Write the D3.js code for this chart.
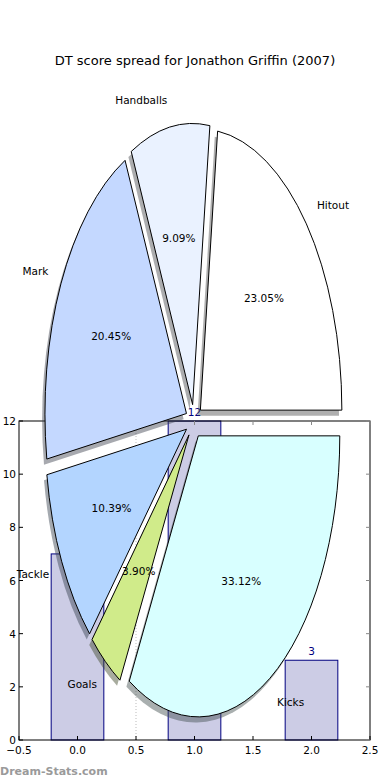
<!DOCTYPE html>
<html>
<head>
<meta charset="utf-8">
<script src="https://cdn.jsdelivr.net/npm/d3@7"></script>
<style>
  html, body { margin: 0; padding: 0; background: #fff; }
  svg { display: block; font-family: "DejaVu Sans", sans-serif; }
</style>
</head>
<body>
<svg width="390" height="780"></svg>
<script>
"use strict";

// pie data
var categories = ["Hitout", "Handballs", "Mark", "Tackle", "Goals", "Kicks"];
var shares = [23.05, 9.09, 20.45, 10.39, 3.90, 33.12];
var sliceColors = ["#ffffff", "#eaf2ff", "#c4d8ff", "#b3d5ff", "#d0eb8a", "#d8ffff"];

// bar data
var barX = [0, 1, 2];
var barValues = [7, 12, 3];
var xTicks = [-0.5, 0, 0.5, 1, 1.5, 2, 2.5];
var yTicks = [0, 2, 4, 6, 8, 10, 12];

var svg = d3.select("svg");

svg.append("text")
    .attr("x", 195)
    .attr("y", 65)
    .attr("text-anchor", "middle")
    .style("font-size", "13px")
    .text("DT score spread for Jonathon Griffin (2007)");

// ---- bar axes ----
var x = d3.scaleLinear().domain([-0.5, 2.5]).range([19, 370]);
var y = d3.scaleLinear().domain([0, 12]).range([740, 421]);
var barWidth = 0.45;

var bars = svg.append("g");

bars.append("line")
    .attr("x1", x(0.5)).attr("x2", x(0.5))
    .attr("y1", y(0)).attr("y2", y(12))
    .attr("stroke", "#bbb")
    .attr("stroke-dasharray", "1,2");

bars.selectAll("rect")
    .data(barValues)
    .enter()
    .append("rect")
    .attr("x", function (d, i) { return x(barX[i] - barWidth / 2); })
    .attr("y", function (d) { return y(d); })
    .attr("width", x(barWidth) - x(0))
    .attr("height", function (d) { return y(0) - y(d); })
    .attr("fill", "#ccccE5")
    .attr("stroke", "#000080")
    .attr("stroke-width", 1);

bars.selectAll("text.val")
    .data(barValues)
    .enter()
    .append("text")
    .attr("class", "val")
    .attr("x", function (d, i) { return x(barX[i]); })
    .attr("y", function (d) { return y(d) - 5; })
    .attr("text-anchor", "middle")
    .attr("fill", "#000080")
    .style("font-size", "10.5px")
    .text(function (d) { return d; });

// frame
bars.append("rect")
    .attr("x", x(-0.5)).attr("y", y(12))
    .attr("width", x(2.5) - x(-0.5))
    .attr("height", y(0) - y(12))
    .attr("fill", "none")
    .attr("stroke", "#000")
    .attr("stroke-width", 1);

// inward ticks on all sides
xTicks.forEach(function (t) {
    bars.append("line").attr("x1", x(t)).attr("x2", x(t))
        .attr("y1", y(0)).attr("y2", y(0) - 4).attr("stroke", "#000");
    bars.append("line").attr("x1", x(t)).attr("x2", x(t))
        .attr("y1", y(12)).attr("y2", y(12) + 4).attr("stroke", "#888");
    bars.append("text")
        .attr("x", x(t)).attr("y", y(0) + 14)
        .attr("text-anchor", "middle")
        .style("font-size", "10.5px")
        .text(d3.format(".1f")(t).replace("-", "\u2212"));
});
yTicks.forEach(function (t) {
    bars.append("line").attr("x1", x(-0.5)).attr("x2", x(-0.5) + 4)
        .attr("y1", y(t)).attr("y2", y(t)).attr("stroke", "#000");
    bars.append("line").attr("x1", x(2.5)).attr("x2", x(2.5) - 4)
        .attr("y1", y(t)).attr("y2", y(t)).attr("stroke", "#888");
    bars.append("text")
        .attr("x", x(-0.5) - 3).attr("y", y(t) + 4)
        .attr("text-anchor", "end")
        .style("font-size", "10.5px")
        .text(t);
});

// ---- pie axes (stretched, no equal aspect) ----
var px = d3.scaleLinear().domain([-1, 1]).range([52.5, 335.5]);
var py = d3.scaleLinear().domain([-1, 1]).range([702.3, 140.3]);
var rx = px(1) - px(0), ry = py(0) - py(1);
var explode = 0.06;

var pie = d3.pie().sort(null)
    .startAngle(Math.PI / 2)
    .endAngle(Math.PI / 2 - 2 * Math.PI);
var arcs = pie(shares);
var arc = d3.arc().innerRadius(0).outerRadius(1);

function midTheta(a) {
    return Math.PI / 2 - (a.startAngle + a.endAngle) / 2;
}
function offsetX(a) { return explode * Math.cos(midTheta(a)); }
function offsetY(a) { return explode * Math.sin(midTheta(a)); }

var shadows = svg.append("g");
var wedges = svg.append("g");
var labels = svg.append("g");

shadows.selectAll("path")
    .data(arcs)
    .enter()
    .append("path")
    .attr("transform", function (d) {
        return "translate(" + px(offsetX(d) - 0.02) + "," + py(offsetY(d) - 0.02) + ") scale(" + rx + "," + ry + ")";
    })
    .attr("d", arc)
    .attr("fill", function (d, i) {
        var c = d3.rgb(sliceColors[i]);
        return d3.rgb(c.r * 0.3, c.g * 0.3, c.b * 0.3);
    })
    .attr("fill-opacity", 0.45);

wedges.selectAll("path")
    .data(arcs)
    .enter()
    .append("path")
    .attr("transform", function (d) {
        return "translate(" + px(offsetX(d)) + "," + py(offsetY(d)) + ") scale(" + rx + "," + ry + ")";
    })
    .attr("d", arc)
    .attr("fill", function (d, i) { return sliceColors[i]; })
    .attr("stroke", "#000")
    .attr("stroke-width", 1)
    .attr("vector-effect", "non-scaling-stroke");

labels.selectAll("text.lab")
    .data(arcs)
    .enter()
    .append("text")
    .attr("class", "lab")
    .attr("x", function (d) { return px(offsetX(d) + 1.1 * Math.cos(midTheta(d))); })
    .attr("y", function (d) { return py(offsetY(d) + 1.1 * Math.sin(midTheta(d))) + 4; })
    .attr("text-anchor", function (d) {
        return offsetX(d) + 1.1 * Math.cos(midTheta(d)) > 0 ? "start" : "end";
    })
    .style("font-size", "10.5px")
    .text(function (d, i) { return categories[i]; });

labels.selectAll("text.pct")
    .data(arcs)
    .enter()
    .append("text")
    .attr("class", "pct")
    .attr("x", function (d) { return px(offsetX(d) + 0.6 * Math.cos(midTheta(d))); })
    .attr("y", function (d) { return py(offsetY(d) + 0.6 * Math.sin(midTheta(d))) + 4; })
    .attr("text-anchor", "middle")
    .style("font-size", "10.5px")
    .text(function (d) { return d3.format(".2f")(d.value) + "%"; });

svg.append("text")
    .attr("x", 0)
    .attr("y", 775)
    .attr("fill", "#9a9a9a")
    .style("font-size", "11px")
    .style("font-weight", "bold")
    .text("Dream-Stats.com");
</script>
</body>
</html>
